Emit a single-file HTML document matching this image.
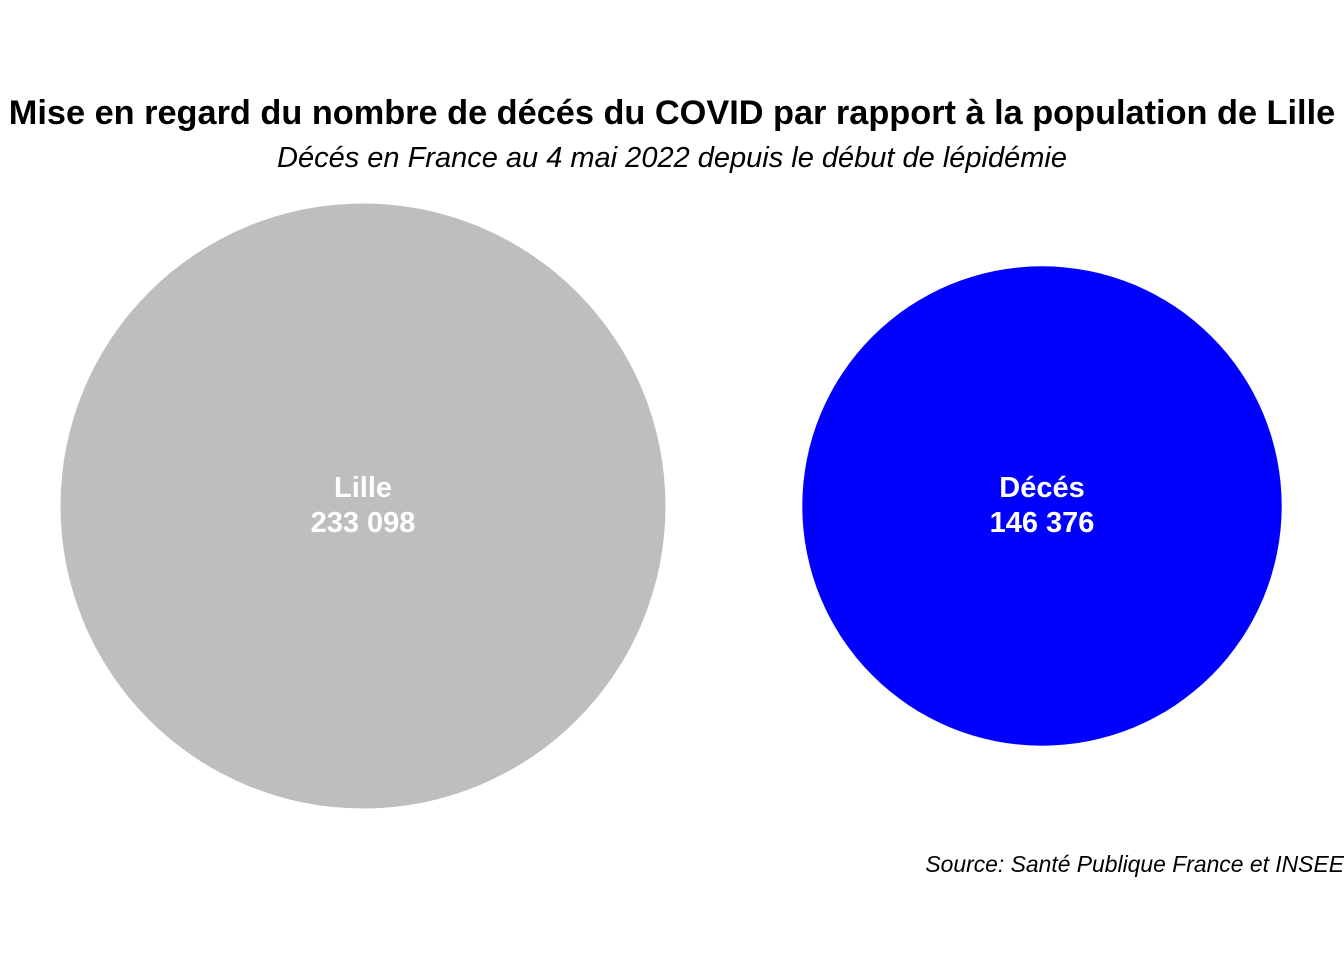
<!DOCTYPE html>
<html><head><meta charset="utf-8"><style>
html,body{margin:0;padding:0;background:#fff;}
svg{display:block;font-family:"Liberation Sans",Arial,sans-serif;}
</style></head><body>
<svg id="chart" width="1344" height="960" viewBox="0 0 1344 960">
<text x="672" y="124" text-anchor="middle" font-size="34.3" font-weight="bold" fill="#000">Mise en regard du nombre de décés du COVID par rapport à la population de Lille</text>
<text x="672" y="167" text-anchor="middle" font-size="29" font-style="italic" fill="#000">Décés en France au 4 mai 2022 depuis le début de lépidémie</text>
<g id="bubbles"></g>
<text x="1344" y="872" text-anchor="end" font-size="22.9" font-style="italic" fill="#000">Source: Santé Publique France et INSEE</text>
</svg>
<script>
const categories = ["Lille", "Décés"];
const values = [233098, 146376];
const valueLabels = ["233 098", "146 376"];
const colors = ["#bebebe", "#0000ff"];
const centersX = [363, 1042];
const cy = 506;
const maxR = 302.5;
const rScale = v => maxR * Math.sqrt(v / Math.max(...values));
const ns = "http://www.w3.org/2000/svg";
const g = document.getElementById("bubbles");
categories.forEach((c, i) => {
  const circ = document.createElementNS(ns, "circle");
  circ.setAttribute("cx", centersX[i]);
  circ.setAttribute("cy", cy);
  circ.setAttribute("r", rScale(values[i]));
  circ.setAttribute("fill", colors[i]);
  
  
  g.appendChild(circ);
  const t = document.createElementNS(ns, "text");
  t.setAttribute("x", centersX[i]);
  t.setAttribute("text-anchor", "middle");
  t.setAttribute("font-size", "29");
  t.setAttribute("font-weight", "bold");
  t.setAttribute("fill", "#fff");
  
  
  const s1 = document.createElementNS(ns, "tspan");
  s1.setAttribute("x", centersX[i]); s1.setAttribute("y", cy - 9);
  s1.textContent = c;
  const s2 = document.createElementNS(ns, "tspan");
  s2.setAttribute("x", centersX[i]); s2.setAttribute("y", cy + 26);
  s2.textContent = valueLabels[i];
  t.appendChild(s1); t.appendChild(s2);
  g.appendChild(t);
});
</script>
</body></html>
